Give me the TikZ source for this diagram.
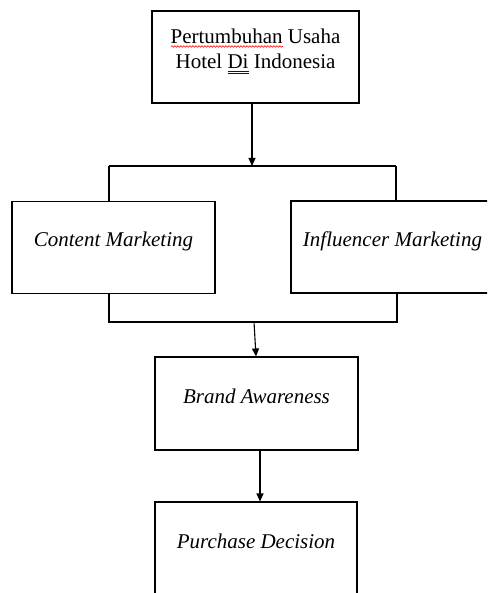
\documentclass[tikz,border=0pt]{standalone}
\usepackage{fontspec}
\setmainfont{Liberation Serif}
\usetikzlibrary{arrows.meta,decorations.pathmorphing}

\tikzset{
  box/.style={draw, line width=1.1pt, inner sep=0pt, minimum width=203pt,
    minimum height=92pt, text height=10pt, text depth=11pt,
    font=\fontsize{21}{25}\selectfont},
  varbox/.style={box, font=\fontsize{21}{25}\selectfont\itshape},
  link/.style={line width=1.1pt},
  arrow/.style={link, -{Triangle[length=8pt,width=7pt]}},
}

\begin{document}
\begin{tikzpicture}[x=1pt, y=-1pt]
    \clip (0,0) rectangle (487,593);

    % Boxes
    \node[box, minimum width=207pt, align=center, text height=34pt,
        text depth=10pt] (growth)
        at (255.5,57) {Pertumbuhan Usaha\\Hotel Di Indonesia};
    \node[varbox] (content) at (113.5,247.5) {Content Marketing};
    \node[varbox] (influencer) at (392.5,247) {Influencer Marketing};
    \node[varbox, minimum height=93pt] (awareness) at (256.5,403.5) {Brand Awareness};
    \node[varbox, minimum width=202pt, minimum height=93pt] (decision)
        at (256,548.5) {Purchase Decision};

    % Spell-check marks
    \draw[red, line width=0.6pt, decorate,
        decoration={snake, segment length=3pt, amplitude=0.8pt}]
        (171,46.5) -- (283,46.5);
    \draw[blue!80!black, line width=0.5pt] (227.5,71.5) -- (248.5,71.5)
        (227.5,73.5) -- (248.5,73.5);

    % Split into the two marketing boxes
    \coordinate (split) at (252,166);
    \coordinate (lefttop) at (109,166);
    \coordinate (righttop) at (396,166);
    \draw[arrow] (split |- growth.south) -- (split);
    \draw[link] (lefttop) -- (righttop);
    \draw[link] (lefttop) -- (lefttop |- content.north);
    \draw[link] (righttop) -- (righttop |- influencer.north);

    % Merge into brand awareness
    \coordinate (merge) at (254,322);
    \coordinate (leftbot) at (109,322);
    \coordinate (rightbot) at (397,322);
    \draw[link] (leftbot |- content.south) -- (leftbot) -- (rightbot)
        -- (rightbot |- influencer.south);
    \draw[arrow] (merge) -- ([xshift=-0.5pt]awareness.north);

    % Brand awareness to purchase decision
    \draw[arrow] ([xshift=3.5pt]awareness.south) -- ([xshift=4pt]decision.north);
\end{tikzpicture}
\end{document}
